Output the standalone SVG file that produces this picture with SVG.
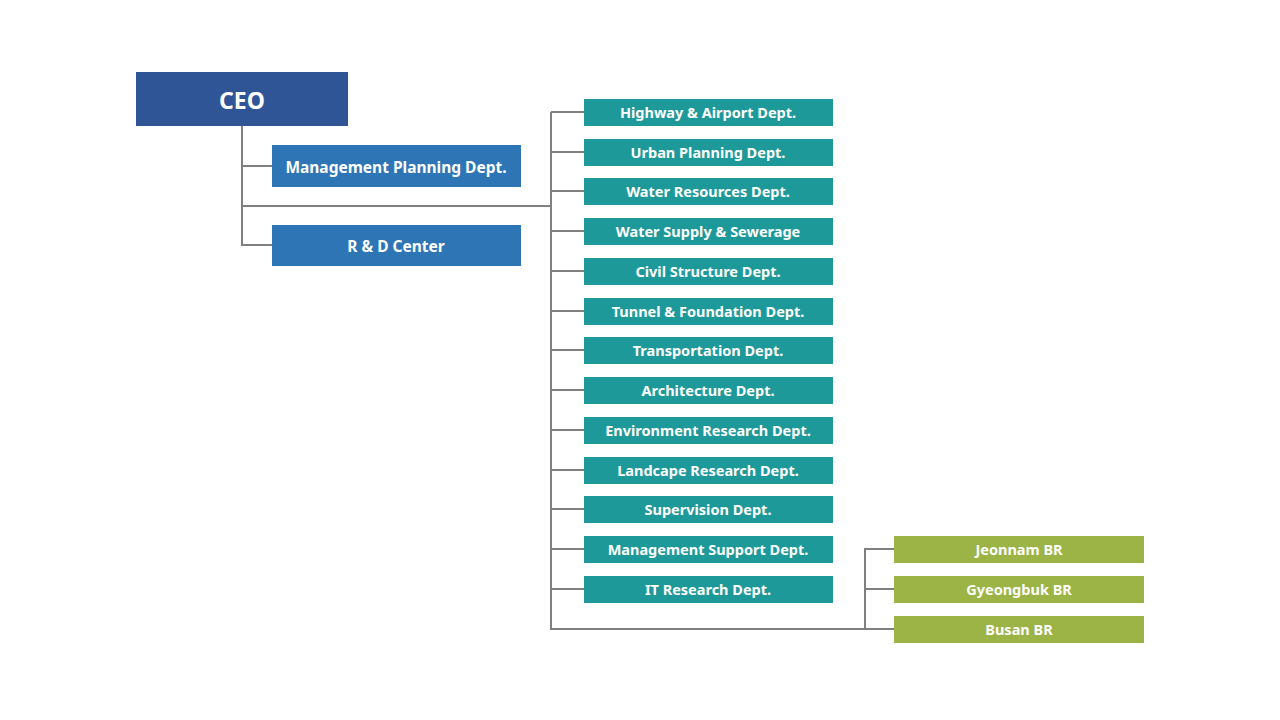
<svg xmlns="http://www.w3.org/2000/svg" width="1280" height="720" viewBox="0 0 1280 720">
<style>
.t{font-family:"Noto Sans","Open Sans","Liberation Sans",sans-serif;font-weight:bold;fill:#fff;text-anchor:middle;dominant-baseline:central}
.s{font-size:14.5px}
.ln{stroke:#808080;stroke-width:2;fill:none}
.teal{fill:#1E9999}
.blue{fill:#2E75B6}
.green{fill:#9BB445}
</style>
<rect width="1280" height="720" fill="#fff"/>
<g id="connectors">
<path class="ln" d="M242 126V245H272M242 166H272M242 206H551M551 112V629H894M551 112H584M551 152H584M551 191H584M551 231H584M551 271H584M551 311H584M551 350H584M551 390H584M551 430H584M551 470H584M551 509H584M551 549H584M551 589H584M865 629V549H894M865 589H894"/>
</g>
<g id="ceo"><rect x="136" y="72" width="212" height="54" fill="#2F5597"/><text class="t" x="242" y="100" font-size="23">CEO</text></g>
<g id="mpd"><rect class="blue" x="272" y="145" width="249" height="42"/><text class="t" x="396" y="167" font-size="15.5">Management Planning Dept.</text></g>
<g id="rd"><rect class="blue" x="272" y="225" width="249" height="41"/><text class="t" x="396" y="246" font-size="15.5">R &amp; D Center</text></g>
<g id="d1"><rect class="teal" x="584" y="99" width="249" height="27"/><text class="t s" x="708" y="112">Highway &amp; Airport Dept.</text></g>
<g id="d2"><rect class="teal" x="584" y="139" width="249" height="27"/><text class="t s" x="708" y="152">Urban Planning Dept.</text></g>
<g id="d3"><rect class="teal" x="584" y="178" width="249" height="27"/><text class="t s" x="708" y="191">Water Resources Dept.</text></g>
<g id="d4"><rect class="teal" x="584" y="218" width="249" height="27"/><text class="t s" x="708" y="231">Water Supply &amp; Sewerage</text></g>
<g id="d5"><rect class="teal" x="584" y="258" width="249" height="27"/><text class="t s" x="708" y="271">Civil Structure Dept.</text></g>
<g id="d6"><rect class="teal" x="584" y="298" width="249" height="27"/><text class="t s" x="708" y="311">Tunnel &amp; Foundation Dept.</text></g>
<g id="d7"><rect class="teal" x="584" y="337" width="249" height="27"/><text class="t s" x="708" y="350">Transportation Dept.</text></g>
<g id="d8"><rect class="teal" x="584" y="377" width="249" height="27"/><text class="t s" x="708" y="390">Architecture Dept.</text></g>
<g id="d9"><rect class="teal" x="584" y="417" width="249" height="27"/><text class="t s" x="708" y="430">Environment Research Dept.</text></g>
<g id="d10"><rect class="teal" x="584" y="457" width="249" height="27"/><text class="t s" x="708" y="470">Landcape Research Dept.</text></g>
<g id="d11"><rect class="teal" x="584" y="496" width="249" height="27"/><text class="t s" x="708" y="509">Supervision Dept.</text></g>
<g id="d12"><rect class="teal" x="584" y="536" width="249" height="27"/><text class="t s" x="708" y="549">Management Support Dept.</text></g>
<g id="d13"><rect class="teal" x="584" y="576" width="249" height="27"/><text class="t s" x="708" y="589">IT Research Dept.</text></g>
<g id="b1"><rect class="green" x="894" y="536" width="250" height="27"/><text class="t s" x="1019" y="549">Jeonnam BR</text></g>
<g id="b2"><rect class="green" x="894" y="576" width="250" height="27"/><text class="t s" x="1019" y="589">Gyeongbuk BR</text></g>
<g id="b3"><rect class="green" x="894" y="616" width="250" height="27"/><text class="t s" x="1019" y="629">Busan BR</text></g>
</svg>
